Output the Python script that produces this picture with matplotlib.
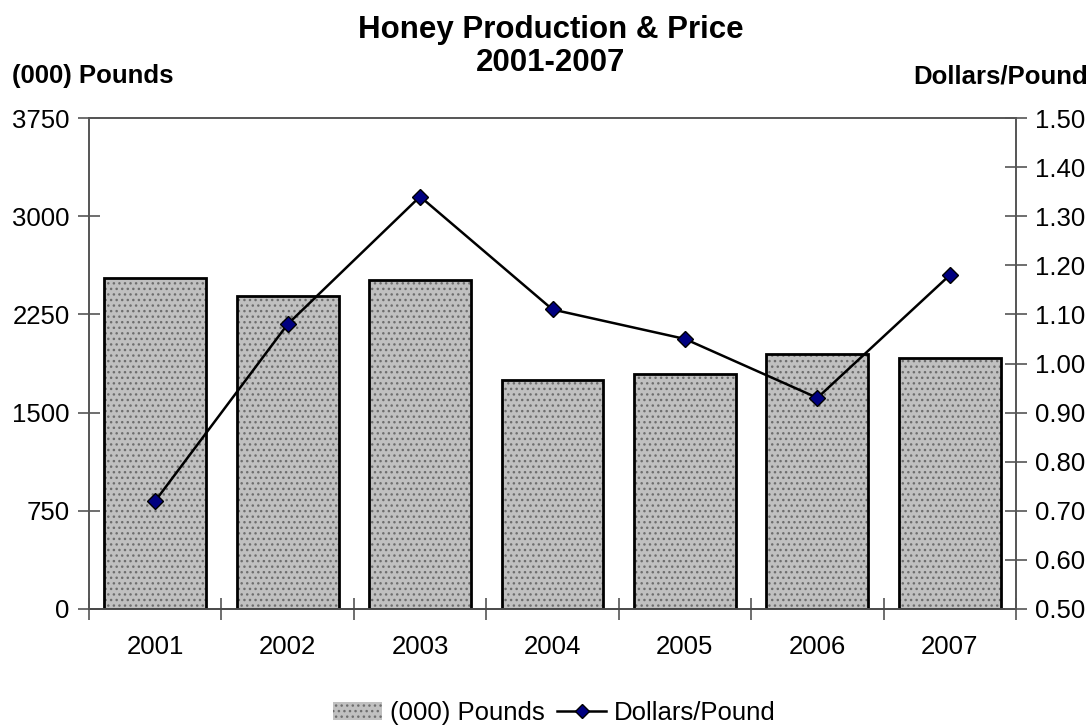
import numpy as np
import matplotlib
matplotlib.use('Agg')
import matplotlib.pyplot as plt
from matplotlib.patches import Patch
from matplotlib.lines import Line2D

plt.rcParams['font.family'] = ['Liberation Sans', 'DejaVu Sans']
plt.rcParams['hatch.color'] = '#6e6e6e'
plt.rcParams['hatch.linewidth'] = 1.0

years = ['2001', '2002', '2003', '2004', '2005', '2006', '2007']
pounds = [2528, 2390, 2513, 1750, 1795, 1948, 1918]
price = [0.72, 1.08, 1.34, 1.11, 1.05, 0.93, 1.18]

fig = plt.figure(figsize=(10.91, 7.28), dpi=100)
ax = fig.add_axes([89 / 1091, 1 - 609 / 728, (1016 - 89) / 1091, (609 - 118) / 728])
x = np.arange(len(years))

# bars: hatched fill, then black outline on top
ax.bar(x, pounds, width=0.77, color='#c0c0c0', hatch='...', edgecolor='#6e6e6e', linewidth=0, zorder=2)
ax.bar(x, pounds, width=0.77, fill=False, edgecolor='black', linewidth=2, zorder=3)
ax.set_xlim(-0.5, len(years) - 0.5)
ax.set_ylim(0, 3750)
ax.set_yticks(np.arange(0, 3751, 750))
ax.set_xticks(x)
ax.set_xticklabels(years)
ax.set_xticks(np.arange(-0.5, len(years)), minor=True)
ax.tick_params(axis='x', which='major', length=0, pad=19, labelsize=18.5)
ax.tick_params(axis='x', which='minor', length=16, direction='inout', color='#555555', width=1.2)
ax.tick_params(axis='y', length=16, direction='inout', color='#555555', width=1.2, labelsize=18.5, pad=6)

ax2 = ax.twinx()
ax2.plot(x, price, color='black', linewidth=1.8, marker='D', markersize=8,
         markerfacecolor='#000080', markeredgecolor='black', markeredgewidth=1, zorder=4)
ax2.set_ylim(0.5, 1.5)
ax2.set_yticks(np.arange(0.5, 1.501, 0.1))
ax2.set_yticklabels([f'{v:.2f}' for v in np.arange(0.5, 1.501, 0.1)])
ax2.tick_params(axis='y', length=16, direction='inout', color='#555555', width=1.2, labelsize=18.5, pad=6)

for a in (ax, ax2):
    for s in a.spines.values():
        s.set_color('#555555')
        s.set_linewidth(1.2)
ax.spines['bottom'].set_color('black')

fig.text(0.505, 1 - 30 / 728, 'Honey Production & Price', ha='center', va='center',
         fontsize=22.5, fontweight='bold')
fig.text(0.505, 1 - 63 / 728, '2001-2007', ha='center', va='center',
         fontsize=22.5, fontweight='bold')
fig.text(12 / 1091, 1 - 76 / 728, '(000) Pounds', ha='left', va='center',
         fontsize=18.5, fontweight='bold')
fig.text(1088 / 1091, 1 - 76 / 728, 'Dollars/Pound', ha='right', va='center',
         fontsize=18.5, fontweight='bold')

handles = [Patch(facecolor='#c0c0c0', hatch='...', edgecolor='#6e6e6e', linewidth=0),
           Line2D([], [], color='black', linewidth=1.8, marker='D', markersize=7,
                  markerfacecolor='#000080', markeredgecolor='black')]
fig.legend(handles, ['(000) Pounds', 'Dollars/Pound'], loc='center',
           bbox_to_anchor=(0.508, 1 - 713 / 728), ncol=2, frameon=False, fontsize=18.5,
           handlelength=1.9, handletextpad=0.3, columnspacing=0.5)

fig.savefig('out.png', dpi=100)
